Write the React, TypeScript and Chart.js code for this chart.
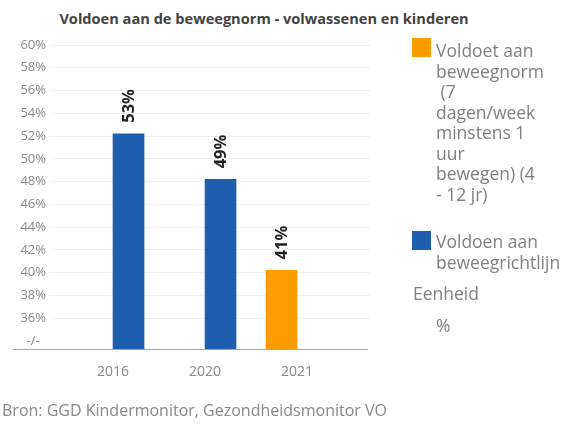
import React, { useEffect, useRef } from 'react';
import { Chart, registerables } from 'chart.js';

Chart.register(...registerables);

const title = 'Voldoen aan de beweegnorm - volwassenen en kinderen';
const source = 'Bron: GGD Kindermonitor, Gezondheidsmonitor VO';
const categories = ['2016', '2020', '2021'];
const seriesNames = [
  'Voldoet aan beweegnorm (7 dagen/week minstens 1 uur bewegen) (4 - 12 jr)',
  'Voldoen aan beweegrichtlijn',
];
const legendLines = [
  ['Voldoet aan', 'beweegnorm', '\u00a0(7', 'dagen/week', 'minstens 1', 'uur', 'bewegen) (4', '- 12 jr)'],
  ['Voldoen aan', 'beweegrichtlijn'],
];
const seriesColors = ['#fd9c00', '#1d5fae'];
const kinderenValues: (number | null)[] = [null, null, 40.2];
const volwassenenValues: (number | null)[] = [52.2, 48.2, null];
const valueLabels = ['53%', '49%', '41%'];
const yTicks = [34, 36, 38, 40, 42, 44, 46, 48, 50, 52, 54, 56, 58, 60];
const breakTick = 34;
const yMin = 33.3;
const yMax = 60;
const unitLabel = 'Eenheid';
const unitValue = '%';

const FONT = '"Open Sans", sans-serif';

function toPoints(values: (number | null)[]) {
  return values
    .map((v, i) => (v === null ? null : { x: i, y: v }))
    .filter((p) => p !== null) as { x: number; y: number }[];
}

export default function App() {
  const ref = useRef<HTMLCanvasElement | null>(null);

  useEffect(() => {
    if (!ref.current) return;
    const extrasPlugin = {
      id: 'extras',
      afterDatasetsDraw(chart: any) {
        const { ctx, chartArea, scales } = chart;
        const yb = scales.y.getPixelForValue(yMin);
        ctx.save();
        ctx.strokeStyle = '#a8a8a8';
        ctx.lineWidth = 1;
        ctx.beginPath();
        ctx.moveTo(13, Math.round(yb) + 0.5);
        ctx.lineTo(chartArea.right - 2, Math.round(yb) + 0.5);
        ctx.stroke();
        ctx.fillStyle = '#222';
        ctx.font = `bold 16.5px ${FONT}`;
        ctx.textAlign = 'left';
        ctx.textBaseline = 'middle';
        chart.data.datasets.forEach((ds: any, di: number) => {
          const meta = chart.getDatasetMeta(di);
          meta.data.forEach((bar: any, j: number) => {
            const idx = ds.data[j].x;
            ctx.save();
            ctx.translate(bar.x + 1, bar.y - 11);
            ctx.rotate(-Math.PI / 2);
            ctx.fillText(valueLabels[idx], 0, 0);
            ctx.restore();
          });
        });
        ctx.restore();
      },
    };

    const chart = new Chart(ref.current, {
      type: 'bar',
      data: {
        datasets: [
          {
            label: seriesNames[0],
            data: toPoints(kinderenValues),
            backgroundColor: seriesColors[0],
            barThickness: 31,
          },
          {
            label: seriesNames[1],
            data: toPoints(volwassenenValues),
            backgroundColor: seriesColors[1],
            barThickness: 31,
          },
        ],
      },
      options: {
        responsive: false,
        animation: false,
        layout: { padding: { left: 0, top: 45, right: 202, bottom: 46 } },
        plugins: {
          legend: { display: false },
          tooltip: { enabled: false },
          title: { display: false },
        },
        scales: {
          x: {
            type: 'linear',
            offset: false,
            min: -0.685,
            max: 2.793,
            grid: { display: false, offset: false },
            border: { display: false },
            afterBuildTicks: (scale: any) => {
              scale.ticks = categories.map((_, i) => ({ value: i }));
            },
            afterFit: (scale: any) => {
              scale.height = 30;
            },
            ticks: {
              padding: 7,
              color: '#8a8a8a',
              font: { family: FONT, size: 14 },
              callback: (v: any) => categories[Math.round(Number(v))] ?? '',
            },
          },
          y: {
            type: 'linear',
            min: yMin,
            max: yMax,
            afterBuildTicks: (scale: any) => {
              scale.ticks = yTicks.map((v) => ({ value: v }));
            },
            afterFit: (scale: any) => {
              scale.width = 50;
            },
            grid: {
              drawTicks: false,
              color: (c: any) => (c.tick && c.tick.value === breakTick ? 'rgba(0,0,0,0)' : '#f0f0f0'),
            },
            border: { display: false },
            ticks: {
              padding: 4,
              crossAlign: 'center',
              color: '#8a8a8a',
              font: { family: FONT, size: 13 },
              callback: (v: any) => (Number(v) === breakTick ? '-/-' : `${v}%`),
            },
          },
        },
      },
      plugins: [extrasPlugin],
    } as any);
    return () => chart.destroy();
  }, []);

  const textStyle: React.CSSProperties = {
    position: 'absolute',
    fontFamily: FONT,
    fontSize: 17.5,
    lineHeight: '20.5px',
    color: '#808080',
    whiteSpace: 'nowrap',
    margin: 0,
  };

  return (
    <div style={{ position: 'absolute', left: 0, top: 0, width: 572, height: 425, background: '#fff', overflow: 'hidden' }}>
      <div
        style={{
          position: 'absolute',
          left: 0,
          top: 8,
          width: 528,
          textAlign: 'center',
          fontFamily: FONT,
          fontWeight: 700,
          fontSize: 14.6,
          lineHeight: '20px',
          color: '#444',
          whiteSpace: 'nowrap',
        }}
      >
        {title}
      </div>
      <canvas ref={ref} width={572} height={425} style={{ position: 'absolute', left: 0, top: 0, display: 'block' }} />
      <div style={{ position: 'absolute', left: 412, top: 38, width: 19, height: 19, background: seriesColors[0] }} />
      <div style={{ ...textStyle, left: 436, top: 40 }}>
        {legendLines[0].map((l, i) => (
          <div key={i}>{l}</div>
        ))}
      </div>
      <div style={{ position: 'absolute', left: 412, top: 231, width: 19, height: 19, background: seriesColors[1] }} />
      <div style={{ ...textStyle, left: 436, top: 231 }}>
        {legendLines[1].map((l, i) => (
          <div key={i}>{l}</div>
        ))}
      </div>
      <div style={{ ...textStyle, left: 413, top: 283 }}>{unitLabel}</div>
      <div style={{ ...textStyle, left: 436, top: 315 }}>{unitValue}</div>
      <div style={{ ...textStyle, fontSize: 16, left: 2, top: 400, color: '#888' }}>{source}</div>
    </div>
  );
}
